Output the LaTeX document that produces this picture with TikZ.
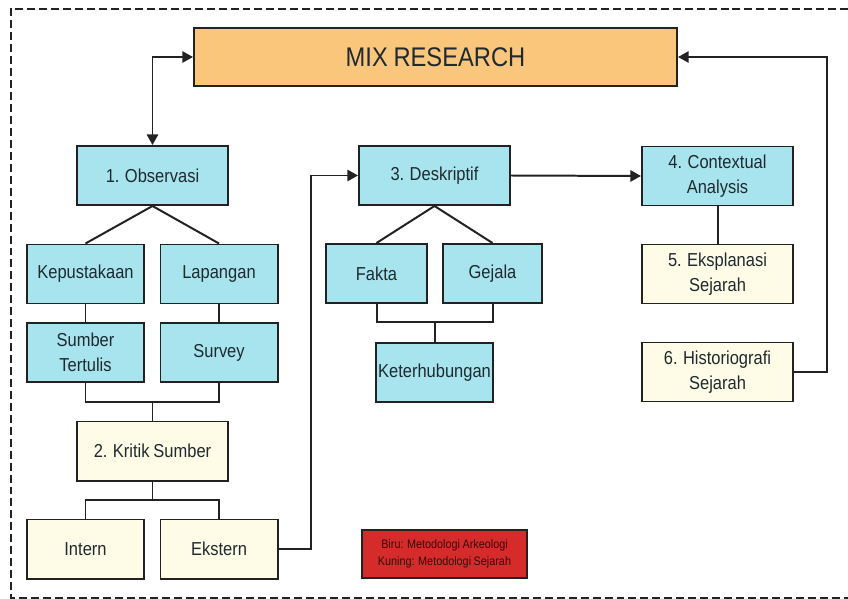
\documentclass[tikz,border=0pt]{standalone}
\usepackage{fontspec}
\setmainfont{Liberation Sans}[FakeStretch=0.88, WordSpace=0.85]
\usepackage{tikz}
\usetikzlibrary{arrows.meta}
\usetikzlibrary{positioning}

\definecolor{boxblue}{HTML}{A8E4EE}
\definecolor{boxyellow}{HTML}{FEFCE6}
\definecolor{boxorange}{HTML}{F9C67C}
\definecolor{boxred}{HTML}{D52B2B}
\definecolor{edgegray}{HTML}{222222}
\definecolor{textgray}{HTML}{1E2A30}

\tikzset{
	box/.style={draw=edgegray, line width=1.7pt, text=textgray, align=center, inner sep=0pt, minimum height=1.77cm, font=\fontsize{16}{21}\selectfont},
	arkbox/.style={box, fill=boxblue},
	sejbox/.style={box, fill=boxyellow},
	wide/.style={minimum width=4.53cm},
	narrow/.style={minimum width=3.51cm},
	link/.style={draw=edgegray, line width=1.7pt},
	arr/.style={link, -{Triangle[length=3.2mm,width=3.4mm]}},
}

\begin{document}
\begin{tikzpicture}[x=0.03cm, y=-0.03cm]
		\useasboundingbox (0,0) rectangle (848,599);
		\draw[edgegray, line width=1.6pt, dash pattern=on 6.8pt off 3.4pt] (848,9) -- (11,9) -- (11,598) -- (848,598);
		
		\node[box, fill=boxorange, minimum width=14.49cm, minimum height=1.74cm, font=\fontsize{23}{26}\selectfont] (mix) at (435.5,57) {MIX RESEARCH};
		
		\node[arkbox, wide] (obs) at (152.5,175.5) {1. Observasi};
		\node[arkbox, narrow] (kep) at (85.5,274) {Kepustakaan};
		\node[arkbox, narrow] (lap) at (219,274) {Lapangan};
		\node[arkbox, narrow] (tulis) at (85.5,352.5) {Sumber\\Tertulis};
		\node[arkbox, narrow] (survey) at (219,352.5) {Survey};
		\node[sejbox, wide] (kritik) at (152.5,451) {2. Kritik Sumber};
		\node[sejbox, narrow] (intern) at (85.5,549) {Intern};
		\node[sejbox, narrow] (ekstern) at (219,549) {Ekstern};
		
		\node[arkbox, wide] (desk) at (434.5,175.5) {3. Deskriptif};
		\node[arkbox, minimum width=3.03cm] (fakta) at (376.5,273.5) {Fakta};
		\node[arkbox, minimum width=2.97cm] (gejala) at (492.5,273.5) {Gejala};
		\node[arkbox, narrow] (hubung) at (434.5,372.5) {Keterhubungan};
		
		\node[arkbox, wide] (ctx) at (717.5,176) {4. Contextual\\Analysis};
		\node[sejbox, wide] (eksplan) at (717.5,274) {5. Eksplanasi\\Sejarah};
		\node[sejbox, wide] (histo) at (717.5,372) {6. Historiografi\\Sejarah};
		
		\node[draw=edgegray, line width=1.2pt, fill=boxred, text=black!75!boxred, align=center, minimum width=4.95cm, minimum height=1.44cm, inner sep=0pt, font=\fontsize{10.5}{14}\selectfont] (legend) at (444.5,554) {Biru: Metodologi Arkeologi\\Kuning: Metodologi Sejarah};
		
		\coordinate (j1) at (152.5,402);
		\coordinate (j2) at (152.5,500);
		\coordinate (j3) at (434.5,322);
		\coordinate (ek) at (311,549);
		\coordinate (hs) at (827,372);
		
		% arrows
		\draw[arr, {Triangle[length=3.2mm,width=3.4mm]}-{Triangle[length=3.2mm,width=3.4mm]}] (obs.north) |- (mix.west);
		\draw[arr] (histo.east) -- (hs) |- (mix.east);
		\draw[arr] (ekstern.east) -- (ek) |- (desk.west);
		\draw[arr] (desk.east) -- (ctx.west);
		
		% tree lines
		\draw[link] (kep.north) -- (obs.south) -- (lap.north);
		\draw[link] (kep.south) -- (tulis.north);
		\draw[link] (lap.south) -- (survey.north);
		\draw[link] (tulis.south) |- (j1) -| (survey.south);
		\draw[link] (j1) -- (kritik.north);
		\draw[link] (kritik.south) -- (j2);
		\draw[link] (intern.north) |- (j2) -| (ekstern.north);
		\draw[link] (fakta.north) -- (desk.south) -- (gejala.north);
		\draw[link] (fakta.south) |- (j3) -| (gejala.south);
		\draw[link] (j3) -- (hubung.north);
		\draw[link] (ctx.south) -- (eksplan.north);
\end{tikzpicture}
\end{document}
